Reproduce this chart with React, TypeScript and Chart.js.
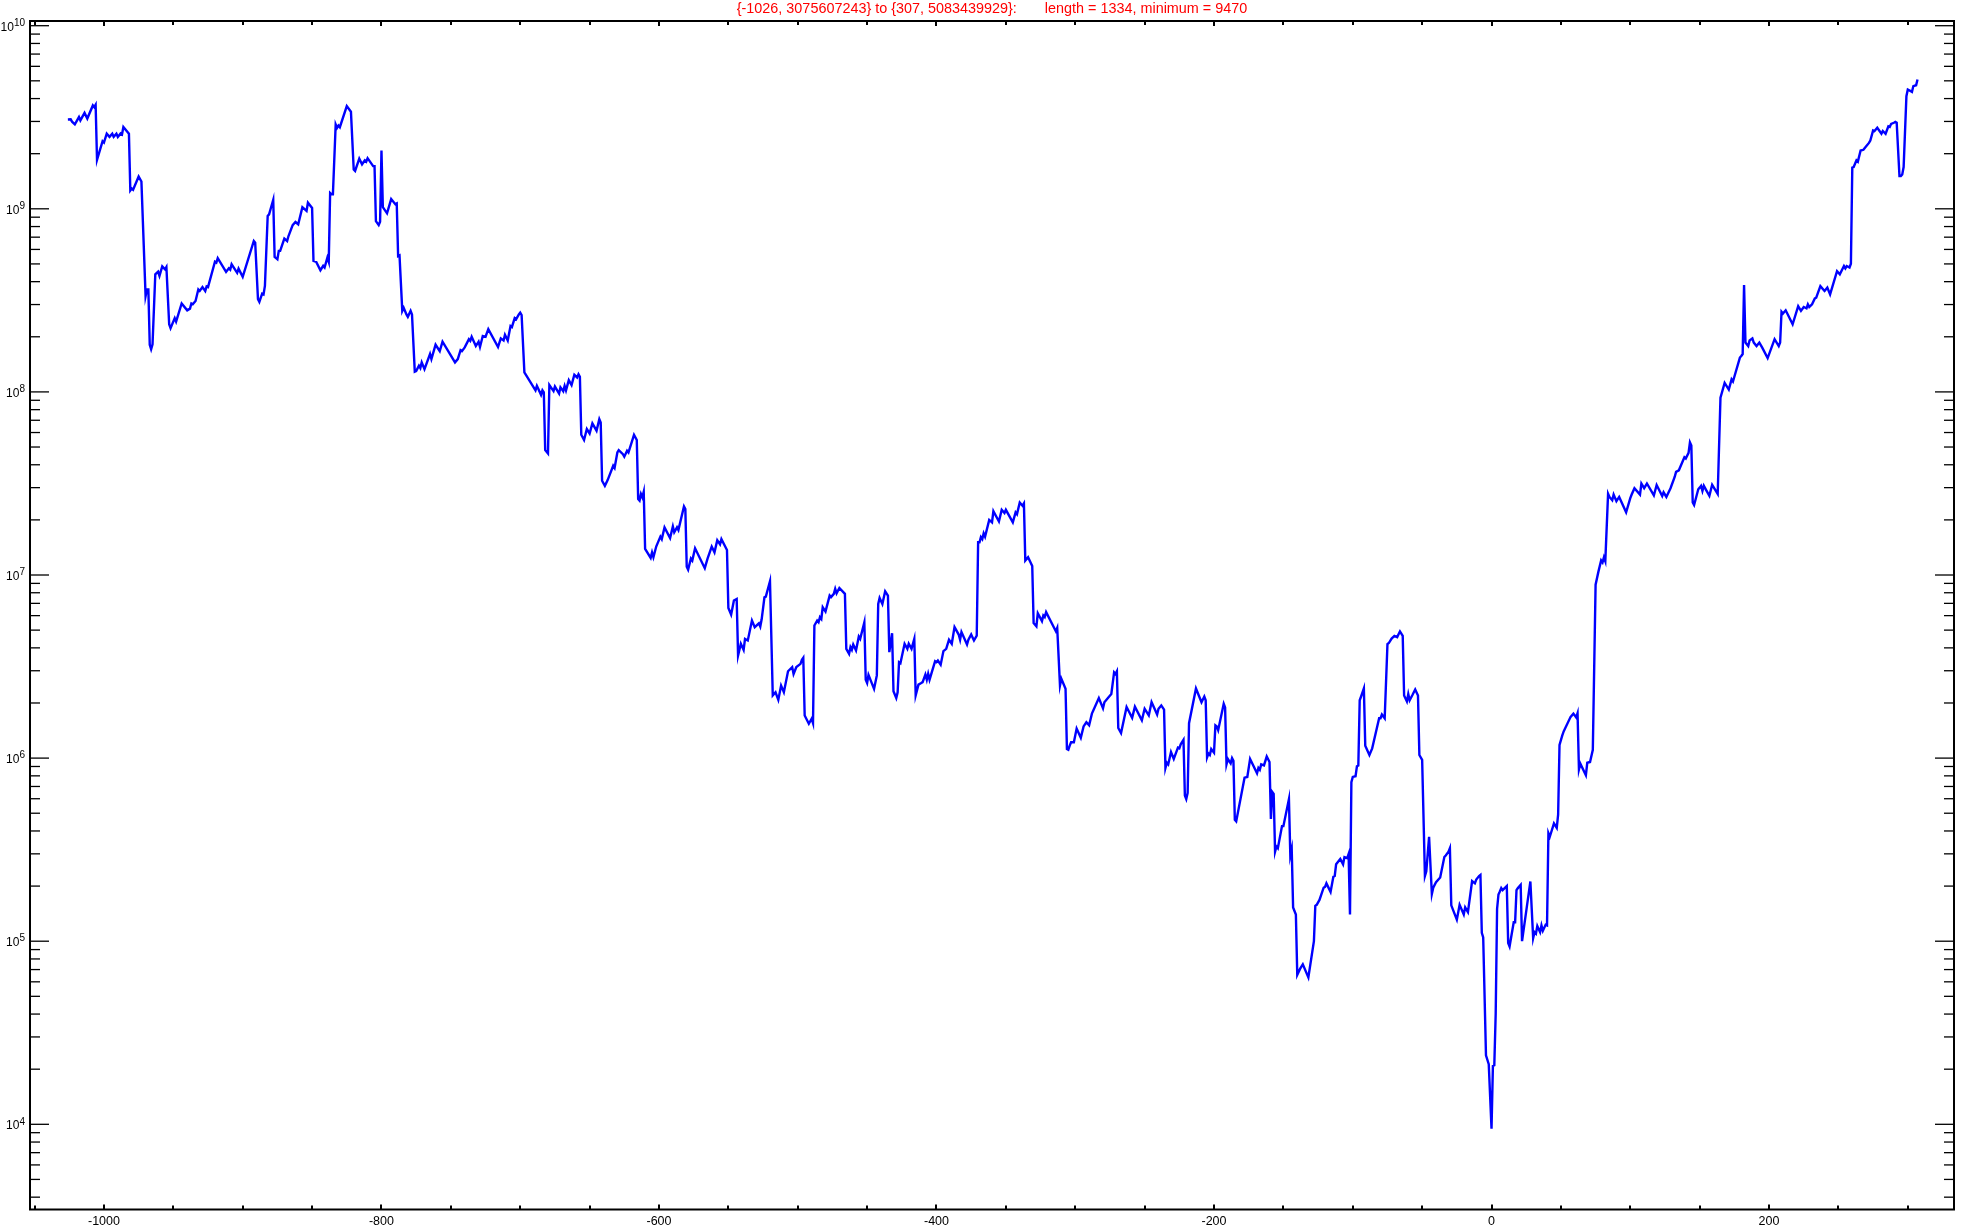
import React, { useEffect, useRef } from "react";
import { Chart, registerables } from "chart.js";

Chart.register(...registerables);

const titleText =
  "{-1026, 3075607243} to {307, 5083439929}:       length = 1334, minimum = 9470";

const steps = [
  -1026, -1024, -1023, -1021, -1018, -1017, -1014, -1012, -1008, -1007, -1006, -1005, -1001, -1000, -998, -996, -994, -993, -991, -990,
  -988, -987, -986, -982, -981, -980, -979, -975, -973, -970, -969, -968, -967, -966, -965, -963, -961, -960, -958, -956,
  -955, -953, -952, -949, -948, -944, -940, -938, -937, -936, -934, -932, -931, -929, -927, -926, -925, -920, -919, -918,
  -912, -910, -909, -908, -904, -903, -900, -892, -891, -889, -888, -886, -885, -884, -882, -881, -878, -877, -875, -874,
  -873, -870, -868, -867, -864, -862, -860, -857, -854, -853, -850, -849, -847, -844, -842, -841, -839, -838, -837, -836,
  -835, -833, -832, -831, -830, -825, -822, -820, -819, -816, -814, -812, -811, -810, -806, -805, -804, -802, -801, -800,
  -799, -796, -793, -790, -789, -788, -787, -785, -784, -782, -781, -779, -778, -776, -775, -773, -772, -771, -769, -765,
  -764, -761, -758, -756, -747, -745, -743, -742, -740, -737, -736, -735, -732, -730, -729, -727, -725, -723, -716, -714,
  -712, -711, -709, -707, -706, -704, -703, -701, -700, -699, -697, -689, -688, -685, -684, -683, -682, -680, -679, -676,
  -675, -672, -671, -669, -668, -667, -665, -663, -661, -659, -658, -657, -656, -654, -652, -650, -648, -645, -643, -642,
  -641, -639, -637, -633, -632, -630, -629, -626, -625, -623, -622, -621, -618, -616, -615, -614, -613, -612, -611, -610,
  -606, -605, -604, -602, -599, -598, -596, -592, -590, -589, -587, -586, -582, -581, -580, -579, -577, -576, -574, -567,
  -565, -562, -560, -558, -556, -555, -551, -550, -548, -546, -544, -543, -541, -539, -538, -536, -533, -531, -528, -527,
  -526, -524, -523, -520, -518, -516, -514, -512, -510, -507, -504, -503, -501, -498, -497, -496, -495, -492, -490, -489,
  -488, -486, -485, -484, -483, -482, -480, -477, -476, -474, -473, -472, -470, -466, -465, -463, -462, -461, -460, -458,
  -456, -455, -452, -451, -450, -449, -445, -443, -442, -441, -439, -437, -435, -434, -432, -431, -429, -428, -427, -426,
  -423, -421, -420, -418, -416, -415, -413, -411, -410, -408, -407, -406, -405, -401, -400, -399, -397, -395, -393, -391,
  -389, -387, -384, -383, -382, -378, -377, -375, -373, -371, -370, -369, -368, -367, -366, -365, -362, -360, -359, -355,
  -353, -351, -350, -345, -343, -342, -340, -338, -337, -336, -334, -331, -330, -328, -327, -324, -323, -322, -321, -314,
  -313, -311, -310, -307, -306, -305, -304, -303, -301, -299, -296, -294, -292, -290, -288, -287, -283, -280, -279, -276,
  -274, -272, -271, -270, -269, -267, -263, -259, -257, -252, -250, -247, -245, -243, -241, -240, -238, -236, -235, -234,
  -233, -231, -229, -226, -225, -224, -222, -221, -220, -219, -218, -213, -209, -207, -206, -205, -204, -203, -202, -200,
  -199, -198, -197, -193, -192, -191, -190, -188, -187, -186, -185, -184, -178, -176, -174, -169, -168, -167, -166, -164,
  -162, -160, -159, -158, -157, -156, -155, -154, -151, -150, -146, -145, -144, -143, -141, -140, -138, -136, -132, -128,
  -127, -126, -124, -121, -120, -119, -116, -114, -113, -112, -109, -107, -106, -104, -103, -102, -101, -100, -98, -97,
  -96, -95, -94, -92, -91, -88, -86, -81, -80, -79, -77, -75, -74, -72, -70, -68, -67, -66, -64, -63,
  -61, -60, -59, -57, -55, -53, -52, -50, -48, -47, -45, -43, -42, -40, -37, -34, -33, -31, -30, -29,
  -25, -23, -20, -19, -17, -14, -12, -11, -9, -8, -7, -6, -4, -2, 0, 1, 2, 3, 4, 5,
  6, 7, 8, 11, 12, 13, 16, 17, 18, 19, 21, 22, 28, 30, 31, 32, 33, 35, 36, 37,
  39, 40, 41, 42, 45, 47, 48, 49, 51, 52, 53, 57, 59, 61, 62, 63, 64, 68, 69, 71,
  73, 75, 77, 79, 80, 81, 82, 84, 85, 87, 88, 90, 92, 97, 100, 101, 103, 107, 108, 110,
  112, 117, 119, 123, 124, 126, 129, 132, 133, 135, 139, 140, 142, 143, 144, 145, 146, 149, 150, 151,
  152, 153, 155, 157, 159, 163, 165, 168, 171, 173, 174, 179, 180, 181, 182, 183, 185, 186, 188, 189,
  191, 193, 195, 199, 204, 207, 208, 209, 210, 212, 217, 221, 223, 225, 227, 228, 229, 231, 233, 234,
  237, 240, 242, 244, 249, 251, 254, 255, 256, 258, 259, 260, 261, 263, 264, 266, 268, 269, 272, 273,
  275, 276, 278, 281, 282, 284, 286, 287, 288, 290, 291, 292, 294, 295, 296, 297, 299, 300, 303, 304,
  306, 307,
];

const values = [
  3075607243, 3.08e9, 2.99e9, 2.89e9, 3.17e9, 3.04e9, 3.34e9, 3.11e9, 3.67e9, 3.59e9, 3.7e9, 1.85e9, 2.34e9, 2.3e9, 2.57e9, 2.47e9, 2.57e9, 2.47e9, 2.57e9, 2.47e9,
  2.58e9, 2.55e9, 2.8e9, 2.57e9, 1.26e9, 1.29e9, 1.27e9, 1.5e9, 1.41e9, 3.34e8, 3.63e8, 3.63e8, 1.81e8, 1.71e8, 1.82e8, 4.39e8, 4.54e8, 4.3e8, 4.85e8, 4.67e8,
  4.81e8, 2.34e8, 2.23e8, 2.53e8, 2.42e8, 3.04e8, 2.79e8, 2.85e8, 3.04e8, 3.01e8, 3.14e8, 3.63e8, 3.56e8, 3.74e8, 3.56e8, 3.77e8, 3.74e8, 5.14e8, 5.08e8, 5.37e8,
  4.52e8, 4.73e8, 4.65e8, 4.98e8, 4.47e8, 4.71e8, 4.25e8, 6.67e8, 6.53e8, 3.21e8, 3.1e8, 3.44e8, 3.41e8, 3.79e8, 9.13e8, 9.33e8, 1.12e9, 5.46e8, 5.3e8, 5.89e8,
  5.89e8, 6.87e8, 6.67e8, 7.1e8, 8.15e8, 8.47e8, 8.23e8, 1.02e9, 9.73e8, 1.08e9, 1.01e9, 5.19e8, 5.13e8, 4.62e8, 4.88e8, 4.78e8, 5.41e8, 5.13e8, 1.22e9, 1.2e9,
  1.2e9, 2.89e9, 2.77e9, 2.85e9, 2.79e9, 3.64e9, 3.39e9, 1.64e9, 1.61e9, 1.88e9, 1.75e9, 1.84e9, 1.81e9, 1.89e9, 1.71e9, 1.71e9, 8.57e8, 8.15e8, 8.51e8, 2.08e9,
  1.02e9, 9.45e8, 1.13e9, 1.06e9, 1.07e9, 5.52e8, 5.57e8, 2.77e8, 2.88e8, 2.65e8, 2.57e8, 2.77e8, 2.65e8, 1.29e8, 1.3e8, 1.39e8, 1.35e8, 1.45e8, 1.33e8, 1.61e8,
  1.51e8, 1.81e8, 1.67e8, 1.88e8, 1.45e8, 1.51e8, 1.69e8, 1.67e8, 1.75e8, 1.94e8, 1.9e8, 2.0e8, 1.78e8, 1.88e8, 1.76e8, 2.02e8, 2.0e8, 2.2e8, 1.76e8, 1.96e8,
  1.91e8, 2.05e8, 1.91e8, 2.29e8, 2.26e8, 2.53e8, 2.49e8, 2.65e8, 2.71e8, 2.63e8, 1.28e8, 1.02e8, 1.08e8, 9.64e7, 1.02e8, 9.93e7, 4.81e7, 4.61e7, 1.09e8, 1.01e8,
  1.07e8, 9.8e7, 1.06e8, 1.01e8, 1.08e8, 1.02e8, 1.16e8, 1.09e8, 1.24e8, 1.2e8, 1.25e8, 1.21e8, 5.83e7, 5.46e7, 6.27e7, 5.93e7, 6.73e7, 6.14e7, 7.1e7, 6.81e7,
  3.27e7, 3.07e7, 3.3e7, 3.95e7, 3.84e7, 4.67e7, 4.81e7, 4.57e7, 4.43e7, 4.77e7, 4.67e7, 4.93e7, 5.83e7, 5.46e7, 2.6e7, 2.55e7, 2.77e7, 2.66e7, 2.85e7, 1.39e7,
  1.24e7, 1.33e7, 1.25e7, 1.43e7, 1.62e7, 1.57e7, 1.82e7, 1.59e7, 1.84e7, 1.71e7, 1.82e7, 1.76e7, 2.37e7, 2.29e7, 1.11e7, 1.07e7, 1.23e7, 1.2e7, 1.4e7, 1.09e7,
  1.23e7, 1.43e7, 1.33e7, 1.55e7, 1.47e7, 1.57e7, 1.37e7, 6.61e6, 6.08e6, 7.25e6, 7.4e6, 3.63e6, 4.21e6, 3.9e6, 4.48e6, 4.39e6, 5.64e6, 5.19e6, 5.45e6, 5.23e6,
  5.73e6, 7.55e6, 7.62e6, 9.25e6, 2.2e6, 2.29e6, 2.08e6, 2.49e6, 2.29e6, 2.98e6, 3.14e6, 2.88e6, 3.14e6, 3.27e6, 3.44e6, 3.53e6, 1.71e6, 1.54e6, 1.64e6, 1.55e6,
  5.3e6, 5.64e6, 5.52e6, 5.88e6, 5.75e6, 6.67e6, 6.31e6, 7.72e6, 7.57e6, 7.89e6, 8.4e6, 7.94e6, 8.49e6, 7.89e6, 3.95e6, 3.71e6, 4.04e6, 3.9e6, 4.17e6, 3.87e6,
  4.61e6, 4.48e6, 5.52e6, 2.68e6, 2.57e6, 2.85e6, 2.39e6, 2.83e6, 6.95e6, 7.5e6, 6.95e6, 8.15e6, 7.72e6, 3.79e6, 4.81e6, 2.32e6, 2.13e6, 2.29e6, 3.34e6, 3.3e6,
  4.21e6, 3.95e6, 4.21e6, 3.95e6, 4.48e6, 2.2e6, 2.52e6, 2.57e6, 2.6e6, 2.86e6, 2.68e6, 2.89e6, 2.68e6, 3.38e6, 3.34e6, 3.41e6, 3.24e6, 3.84e6, 3.95e6, 4.43e6,
  4.21e6, 5.19e6, 4.73e6, 4.43e6, 4.88e6, 4.17e6, 4.43e6, 4.73e6, 4.39e6, 4.67e6, 1.51e7, 1.51e7, 1.61e7, 1.57e7, 1.69e7, 1.62e7, 2.0e7, 1.94e7, 2.23e7, 1.96e7,
  2.27e7, 2.18e7, 2.27e7, 1.94e7, 2.2e7, 2.15e7, 2.49e7, 2.39e7, 2.46e7, 1.2e7, 1.25e7, 1.12e7, 5.46e6, 5.24e6, 6.18e6, 5.6e6, 6.01e6, 5.89e6, 6.27e6, 4.93e6,
  5.14e6, 2.49e6, 2.71e6, 2.39e6, 1.12e6, 1.11e6, 1.17e6, 1.22e6, 1.22e6, 1.45e6, 1.29e6, 1.49e6, 1.57e6, 1.51e6, 1.75e6, 1.82e6, 2.13e6, 1.87e6, 2.02e6, 2.15e6,
  2.24e6, 2.94e6, 2.88e6, 2.98e6, 1.46e6, 1.37e6, 1.9e6, 1.66e6, 1.91e6, 1.61e6, 1.86e6, 1.71e6, 2.02e6, 1.87e6, 1.73e6, 1.86e6, 1.94e6, 1.84e6, 8.83e5, 9.44e5,
  9.24e5, 1.08e6, 9.89e5, 1.14e6, 1.13e6, 1.19e6, 1.26e6, 6.25e5, 5.97e5, 6.45e5, 1.55e6, 2.4e6, 2.02e6, 2.17e6, 2.07e6, 1.01e6, 1.06e6, 1.04e6, 1.12e6, 1.07e6,
  1.51e6, 1.49e6, 1.42e6, 1.98e6, 1.89e6, 9.24e5, 9.89e5, 9.36e5, 1.0e6, 9.66e5, 4.6e5, 4.51e5, 7.82e5, 7.89e5, 9.89e5, 8.26e5, 8.83e5, 8.63e5, 9.24e5, 9.12e5,
  1.02e6, 9.53e5, 4.65e5, 6.53e5, 6.37e5, 3.08e5, 3.29e5, 3.22e5, 4.25e5, 4.25e5, 5.97e5, 2.94e5, 3.19e5, 1.53e5, 1.4e5, 6.55e4, 7.06e4, 7.48e4, 6.34e4, 1.0e5,
  1.56e5, 1.58e5, 1.68e5, 1.96e5, 1.98e5, 2.07e5, 1.86e5, 2.25e5, 2.27e5, 2.63e5, 2.81e5, 2.63e5, 2.88e5, 2.84e5, 2.99e5, 1.4e5, 7.38e5, 7.89e5, 7.96e5, 9.03e5,
  9.12e5, 2.07e6, 2.17e6, 2.4e6, 1.17e6, 1.04e6, 1.13e6, 1.65e6, 1.65e6, 1.73e6, 1.65e6, 4.19e6, 4.25e6, 4.5e6, 4.65e6, 4.58e6, 4.75e6, 4.92e6, 4.65e6, 2.2e6,
  2.04e6, 2.24e6, 2.07e6, 2.21e6, 2.37e6, 2.2e6, 1.04e6, 9.79e5, 2.27e5, 2.41e5, 3.72e5, 1.81e5, 1.96e5, 2.1e5, 2.23e5, 2.88e5, 2.94e5, 3.08e5, 3.22e5, 1.57e5,
  1.31e5, 1.58e5, 1.4e5, 1.53e5, 1.44e5, 2.13e5, 2.07e5, 2.17e5, 2.27e5, 2.3e5, 1.11e5, 1.05e5, 2.38e4, 2.13e4, 9470, 2.08e4, 2.1e4, 4.0e4, 1.5e5, 1.8e5,
  1.87e5, 1.95e5, 1.9e5, 2.0e5, 9.77e4, 9.35e4, 1.27e5, 1.27e5, 1.9e5, 1.95e5, 2.03e5, 1.0e5, 2.12e5, 1.04e5, 1.12e5, 1.1e5, 1.21e5, 1.12e5, 1.22e5, 1.14e5,
  1.23e5, 1.22e5, 3.89e5, 3.72e5, 4.4e5, 4.16e5, 4.91e5, 1.18e6, 1.33e6, 1.4e6, 1.45e6, 1.68e6, 1.75e6, 1.67e6, 1.76e6, 8.68e5, 9.33e5, 8.07e5, 9.43e5, 9.53e5,
  1.11e6, 8.85e6, 1.04e7, 1.2e7, 1.17e7, 1.25e7, 1.19e7, 2.78e7, 2.67e7, 2.56e7, 2.75e7, 2.53e7, 2.67e7, 2.2e7, 2.63e7, 2.75e7, 2.98e7, 2.75e7, 3.16e7, 2.98e7,
  3.16e7, 2.72e7, 3.1e7, 2.7e7, 2.83e7, 2.67e7, 2.98e7, 3.43e7, 3.66e7, 3.73e7, 4.4e7, 4.33e7, 4.65e7, 5.3e7, 5.1e7, 2.49e7, 2.41e7, 2.94e7, 3.0e7, 3.07e7,
  2.88e7, 3.07e7, 2.88e7, 2.71e7, 3.11e7, 2.77e7, 9.31e7, 1.12e8, 1.03e8, 1.17e8, 1.14e8, 1.54e8, 1.57e8, 1.61e8, 3.84e8, 1.86e8, 1.78e8, 1.91e8, 1.96e8, 1.86e8,
  1.78e8, 1.86e8, 1.75e8, 1.53e8, 1.94e8, 1.78e8, 1.86e8, 2.74e8, 2.68e8, 2.79e8, 2.34e8, 2.94e8, 2.77e8, 2.91e8, 2.86e8, 3.01e8, 2.91e8, 3.01e8, 3.24e8, 3.27e8,
  3.78e8, 3.56e8, 3.71e8, 3.41e8, 4.57e8, 4.39e8, 4.87e8, 4.73e8, 4.87e8, 4.78e8, 5.01e8, 1.68e9, 1.69e9, 1.84e9, 1.81e9, 2.08e9, 2.1e9, 2.15e9, 2.29e9, 2.36e9,
  2.68e9, 2.66e9, 2.77e9, 2.57e9, 2.66e9, 2.57e9, 2.82e9, 2.8e9, 2.91e9, 2.95e9, 2.98e9, 2.95e9, 1.51e9, 1.51e9, 1.54e9, 1.69e9, 4.12e9, 4.48e9, 4.35e9, 4.68e9,
  4.73e9, 5083439929,
];

const xTickValues = [
  -1050, -1000, -950, -900, -850, -800, -750, -700, -650, -600, -550, -500, -450, -400,
  -350, -300, -250, -200, -150, -100, -50, 0, 50, 100, 150, 200, 250, 300,
];
const xLabelValues = [-1000, -800, -600, -400, -200, 0, 200];
const yExponents = [3, 4, 5, 6, 7, 8, 9, 10];
const yLabelExponents = [4, 5, 6, 7, 8, 9, 10];
const yMantissas = [1, 2, 3, 4, 5, 6, 7, 8, 9];

const FONT = '"Liberation Sans", Arial, Helvetica, sans-serif';

const framePlugin = {
  id: "mmaFrame",
  afterDraw(chart: any) {
    const { ctx, chartArea: a, scales } = chart;
    const xs = scales.x;
    const ys = scales.y;
    const seg = (x1: number, y1: number, x2: number, y2: number) => {
      ctx.beginPath();
      ctx.moveTo(x1, y1);
      ctx.lineTo(x2, y2);
      ctx.stroke();
    };
    ctx.save();
    ctx.strokeStyle = "#000";
    ctx.fillStyle = "#000";

    // x ticks (bottom & top, pointing inward)
    ctx.lineWidth = 2;
    for (const v of xTickValues) {
      const px = Math.round(xs.getPixelForValue(v));
      const len = xLabelValues.includes(v) ? 5 : 4;
      seg(px, a.bottom, px, a.bottom - len);
      seg(px, a.top, px, a.top + len);
    }

    // y ticks (left & right)
    ctx.lineWidth = 1.3;
    for (const e of yExponents) {
      for (const m of yMantissas) {
        const v = m * Math.pow(10, e);
        if (v < ys.min || v > ys.max) continue;
        const py = ys.getPixelForValue(v);
        const len = m === 1 ? 19 : 10;
        seg(a.left, py, a.left + len, py);
        seg(a.right, py, a.right - len, py);
      }
    }

    // frame
    ctx.lineWidth = 2;
    ctx.strokeRect(a.left, a.top, a.right - a.left, a.bottom - a.top);

    // x labels
    ctx.font = `12.5px ${FONT}`;
    ctx.textAlign = "center";
    ctx.textBaseline = "middle";
    for (const v of xLabelValues) {
      const px = xs.getPixelForValue(v);
      ctx.fillText(String(v), px, a.bottom + 12);
    }

    // y labels: 10^n
    for (const e of yLabelExponents) {
      const py = ys.getPixelForValue(Math.pow(10, e));
      ctx.font = `10px ${FONT}`;
      const supW = ctx.measureText(String(e)).width;
      const baseRight = 25 - supW;
      ctx.textAlign = "left";
      ctx.fillText(String(e), baseRight, py - 2.5);
      ctx.font = `12px ${FONT}`;
      ctx.textAlign = "right";
      ctx.fillText("10", baseRight, py + 1.5);
    }
    ctx.restore();
  },
};

export default function App() {
  const ref = useRef<HTMLCanvasElement | null>(null);
  useEffect(() => {
    if (!ref.current) return;
    const points = steps.map((s, i) => ({ x: s, y: values[i] }));
    const chart = new Chart(ref.current, {
      type: "line",
      data: {
        datasets: [
          {
            label: "series",
            data: points,
            borderColor: "#0000ff",
            borderWidth: 2.4,
            pointRadius: 0,
            tension: 0,
            fill: false,
          },
        ],
      },
      options: {
        responsive: false,
        animation: false,
        devicePixelRatio: 1,
        layout: { padding: { left: 30, right: 7, top: 0, bottom: 20.5 } },
        scales: {
          x: {
            type: "linear",
            display: false,
            min: -1053.3,
            max: 333.3,
          },
          y: {
            type: "logarithmic",
            display: false,
            min: Math.pow(10, 3.5347),
            max: Math.pow(10, 10.0257),
          },
        },
        plugins: {
          legend: { display: false },
          tooltip: { enabled: false },
          title: {
            display: true,
            text: titleText,
            color: "#ff0000",
            font: { size: 14.4, family: FONT, weight: "normal", lineHeight: 1 },
            padding: { top: 1.5, bottom: 5.1 },
          },
        },
      },
      plugins: [framePlugin],
    });
    return () => chart.destroy();
  }, []);
  return (
    <div style={{ position: "absolute", left: 0, top: 0, width: 1961, height: 1230, background: "#fff" }}>
      <canvas ref={ref} width={1961} height={1230} style={{ display: "block" }} />
    </div>
  );
}
